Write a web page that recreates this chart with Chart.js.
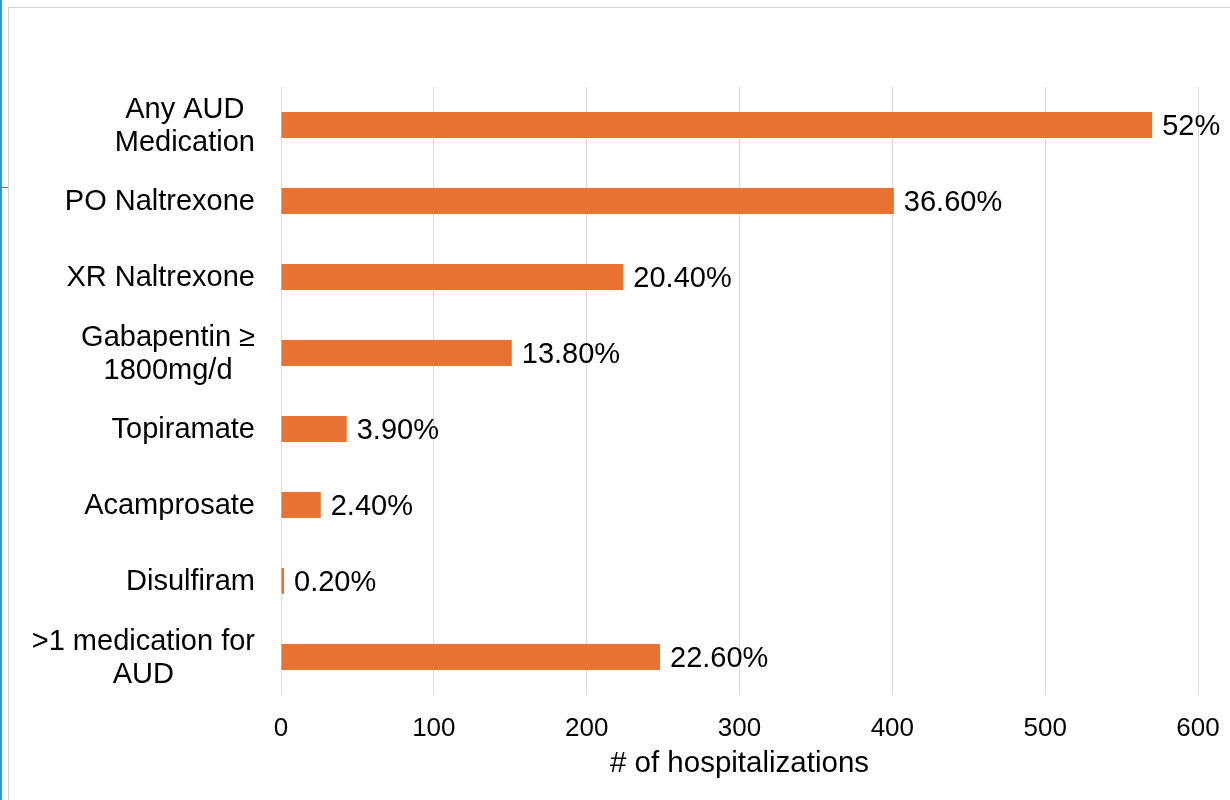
<!DOCTYPE html>
<html>
<head>
<meta charset="utf-8">
<title>AUD medications</title>
<script src="https://cdn.jsdelivr.net/npm/chart.js@4/dist/chart.umd.min.js"></script>
<style>
  html, body { margin: 0; padding: 0; background: #fff; }
  body { width: 1230px; height: 800px; position: relative; overflow: hidden; }
  #edge { position: absolute; left: 0; top: 0; width: 2px; height: 800px; background: #1ba1e2; }
  #tab { position: absolute; left: 0; top: 187px; width: 8px; height: 1px; background: #777; }
  #frame { position: absolute; left: 8px; top: 7px; width: 1240px; height: 820px; border: 1px solid #d4d4d4; }
  canvas { position: absolute; left: 0; top: 0; }
</style>
</head>
<body>
<div id="frame"></div>
<div id="edge"></div>
<div id="tab"></div>
<canvas id="medChart" width="1230" height="800"></canvas>
<script>
const categories = [
  ["Any AUD", "Medication"],
  "PO Naltrexone",
  "XR Naltrexone",
  ["Gabapentin \u2265", "1800mg/d"],
  "Topiramate",
  "Acamprosate",
  "Disulfiram",
  [">1 medication for", "AUD"]
];
const hospitalizations = [570, 401, 224, 151, 43, 26, 2, 248];
const percentLabels = ["52%", "36.60%", "20.40%", "13.80%", "3.90%", "2.40%", "0.20%", "22.60%"];
const xTicks = [0, 100, 200, 300, 400, 500, 600];

const FONT = "'Liberation Sans', Arial, sans-serif";

// Category labels: each block right aligned, lines centered inside the block
const categoryLabels = {
  id: "categoryLabels",
  afterDraw(chart) {
    const { ctx, chartArea, scales } = chart;
    ctx.save();
    ctx.font = "29px " + FONT;
    ctx.fillStyle = "#000";
    ctx.textAlign = "center";
    ctx.textBaseline = "middle";
    const right = chartArea.left - 26;
    categories.forEach((label, i) => {
      const lines = Array.isArray(label) ? label : [label];
      const w = Math.max(...lines.map((l) => ctx.measureText(l).width));
      const cx = right - w / 2;
      const cy = scales.y.getPixelForValue(i);
      lines.forEach((line, j) => {
        ctx.fillText(line, cx, cy + 1 + (j - (lines.length - 1) / 2) * 33);
      });
    });
    ctx.restore();
  }
};

// Percent labels at the end of each bar
const barLabels = {
  id: "barLabels",
  afterDatasetsDraw(chart) {
    const { ctx } = chart;
    const meta = chart.getDatasetMeta(0);
    ctx.save();
    ctx.font = "29px " + FONT;
    ctx.fillStyle = "#000";
    ctx.textAlign = "left";
    ctx.textBaseline = "middle";
    meta.data.forEach((bar, i) => {
      ctx.fillText(percentLabels[i], bar.x + 10, bar.y + 2);
    });
    ctx.restore();
  }
};

const ctx = document.getElementById("medChart").getContext("2d");
new Chart(ctx, {
  type: "bar",
  data: {
    labels: categories,
    datasets: [
      {
        data: hospitalizations,
        backgroundColor: "#E97132",
        borderWidth: 0,
        categoryPercentage: 1,
        barPercentage: 0.34
      }
    ]
  },
  options: {
    indexAxis: "y",
    responsive: false,
    animation: false,
    layout: { padding: { top: 87, right: 32, left: 0, bottom: 0 } },
    plugins: {
      legend: { display: false },
      tooltip: { enabled: false }
    },
    scales: {
      y: {
        ticks: { display: false },
        grid: { display: false },
        border: { display: false },
        afterFit: (scale) => { scale.width = 281; }
      },
      x: {
        position: "bottom",
        min: xTicks[0],
        max: xTicks[xTicks.length - 1],
        afterBuildTicks: (scale) => {
          scale.ticks = xTicks.map((v) => ({ value: v }));
        },
        grid: { color: "#d9d9d9", lineWidth: 1, drawTicks: false },
        border: { display: false },
        ticks: {
          color: "#000",
          padding: 18,
          font: { family: FONT, size: 26 },
          maxRotation: 0
        },
        title: {
          display: true,
          text: "# of hospitalizations",
          color: "#000",
          font: { family: FONT, size: 29.5 },
          padding: { top: 0, bottom: 18 }
        },
        afterFit: (scale) => {
          scale.height = 105;
          scale.paddingLeft = 0;
          scale.paddingRight = 0;
        }
      }
    }
  },
  plugins: [categoryLabels, barLabels]
});
</script>
</body>
</html>
